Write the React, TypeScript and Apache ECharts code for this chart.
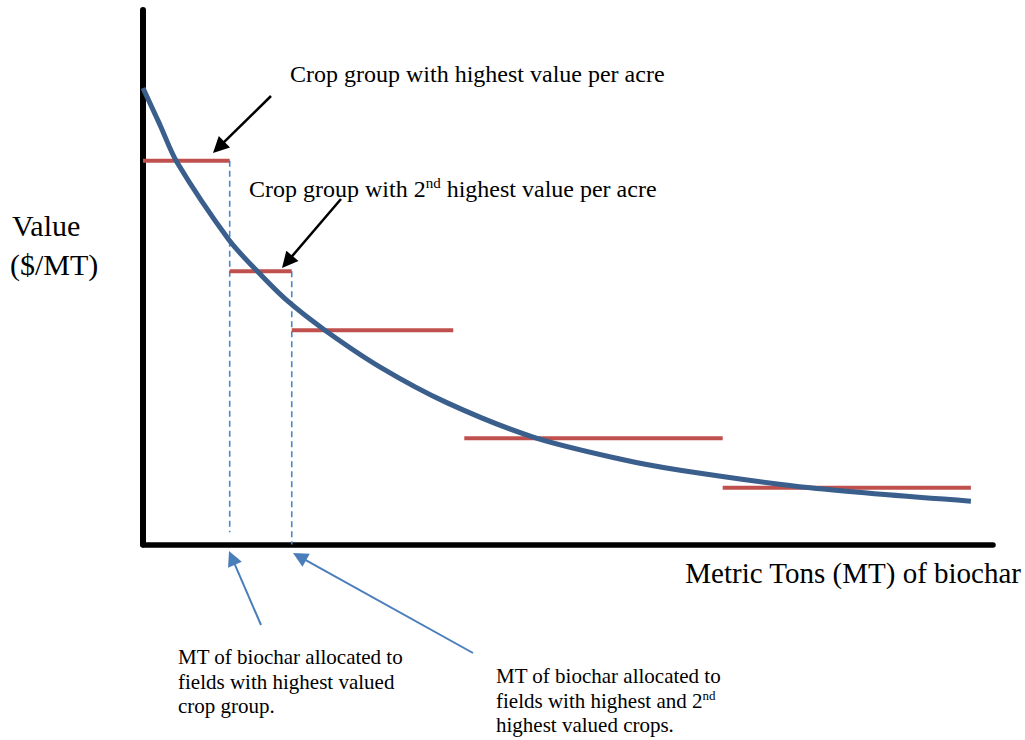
import React, { useEffect, useRef } from 'react';
import * as echarts from 'echarts';

// Demand curve for biochar (value per MT vs. MT allocated)
const curveX = [0, 2.0, 4.0, 10.1, 13.4, 16.9, 21.4, 27.9, 35.8, 45.9, 56.1, 63.2, 78.5, 97.4];
const curveY = [85.4, 78.5, 71.5, 57.0, 51.2, 45.7, 40.1, 33.2, 26.5, 20.1, 16.0, 13.9, 10.6, 8.1];

// Crop groups: value per MT (red steps)
const groupStartX = [0, 10.2, 17.5, 37.8, 68.2];
const groupEndX = [10.2, 17.5, 36.5, 68.2, 97.4];
const groupValue = [71.8, 51.1, 40.1, 19.9, 10.6];

// MT allocated (dashed drop lines)
const allocX = [10.2, 17.5];
const allocTopY = [71.8, 51.1];
const allocBottomY = [2.3, 0];

const xAxisTitle = 'Metric Tons (MT) of biochar';
const yAxisTitleLines = ['Value', '($/MT)'];
const noteTop1 = 'Crop group with highest value per acre';
const noteTop2 = ['Crop group with 2', 'nd', ' highest value per acre'];
const noteBottom1 = ['MT of biochar allocated to', 'fields with highest valued', 'crop group.'];
const noteBottom2 = ['MT of biochar allocated to', 'fields with highest and 2', 'nd', 'highest valued crops.'];

const FONT = 'Liberation Serif, DejaVu Serif, serif';

function arrow(x1: number, y1: number, x2: number, y2: number, color: string, width: number, L: number, W: number) {
  const dx = x2 - x1;
  const dy = y2 - y1;
  const len = Math.sqrt(dx * dx + dy * dy);
  const ux = dx / len;
  const uy = dy / len;
  const bx = x2 - ux * L;
  const by = y2 - uy * L;
  const nx = -uy;
  const ny = ux;
  return [
    {
      type: 'line',
      shape: { x1, y1, x2: x2 - ux * (L - 2), y2: y2 - uy * (L - 2) },
      style: { stroke: color, lineWidth: width },
      silent: true,
    },
    {
      type: 'polygon',
      shape: { points: [[x2, y2], [bx + nx * W, by + ny * W], [bx - nx * W, by - ny * W]] },
      style: { fill: color },
      silent: true,
    },
  ];
}

export default function App() {
  const ref = useRef<HTMLDivElement>(null);

  useEffect(() => {
    if (!ref.current) return;
    const chart = echarts.init(ref.current, undefined, { renderer: 'svg' });

    const series: any[] = [];
    groupValue.forEach((v, i) => {
      series.push({
        type: 'line',
        name: 'group' + i,
        data: [[groupStartX[i], v], [groupEndX[i], v]],
        symbol: 'none',
        lineStyle: { color: '#C0504D', width: 4 },
        z: 2,
        silent: true,
      });
    });
    allocX.forEach((x, i) => {
      series.push({
        type: 'line',
        name: 'alloc' + i,
        data: [[x, allocTopY[i]], [x, allocBottomY[i]]],
        symbol: 'none',
        lineStyle: { color: '#4A86C8', width: 1.6, type: [6, 4] },
        z: 1,
        silent: true,
      });
    });
    series.push({
      type: 'line',
      name: 'value',
      data: curveX.map((x, i) => [x, curveY[i]]),
      symbol: 'none',
      smooth: 0.3,
      lineStyle: { color: '#3A5F8C', width: 5 },
      z: 3,
      silent: true,
    });

    const textBase = { fill: '#000', fontFamily: FONT };

    const graphic: any[] = [
      // Y axis title
      {
        type: 'text', x: 12, y: 225,
        style: { ...textBase, text: yAxisTitleLines[0], fontSize: 30, align: 'left', verticalAlign: 'middle', textAlign: 'left', textVerticalAlign: 'middle' },
      },
      {
        type: 'text', x: 10, y: 264,
        style: { ...textBase, text: yAxisTitleLines[1], fontSize: 30, align: 'left', verticalAlign: 'middle', textAlign: 'left', textVerticalAlign: 'middle' },
      },
      // X axis title
      {
        type: 'text', x: 1021, y: 573,
        style: { ...textBase, text: xAxisTitle, fontSize: 29, align: 'right', verticalAlign: 'middle', textAlign: 'right', textVerticalAlign: 'middle' },
      },
      // Top notes
      {
        type: 'text', x: 290, y: 74,
        style: { ...textBase, text: noteTop1, fontSize: 24, align: 'left', verticalAlign: 'middle', textAlign: 'left', textVerticalAlign: 'middle' },
      },
      {
        type: 'text', x: 249, y: 175,
        style: {
          ...textBase,
          text: `{a|${noteTop2[0]}}{s|${noteTop2[1]}}{a|${noteTop2[2]}}`,
          align: 'left', verticalAlign: 'top', textAlign: 'left', textVerticalAlign: 'top',
          rich: {
            a: { fontSize: 24, lineHeight: 28, fontFamily: FONT, fill: '#000', color: '#000' },
            s: { fontSize: 15, lineHeight: 16, verticalAlign: 'top', fontFamily: FONT, fill: '#000', color: '#000' },
          },
        },
      },
      // Bottom notes
      {
        type: 'text', x: 178, y: 645,
        style: {
          ...textBase,
          text: noteBottom1.map((l) => `{a|${l}}`).join('\n'),
          align: 'left', verticalAlign: 'top', textAlign: 'left', textVerticalAlign: 'top',
          rich: {
            a: { fontSize: 21, lineHeight: 24.5, fontFamily: FONT, fill: '#000', color: '#000' },
          },
        },
      },
      {
        type: 'text', x: 496, y: 664,
        style: {
          ...textBase,
          text: `{a|${noteBottom2[0]}}\n{a|${noteBottom2[1]}}{s|${noteBottom2[2]}}\n{a|${noteBottom2[3]}}`,
          align: 'left', verticalAlign: 'top', textAlign: 'left', textVerticalAlign: 'top',
          rich: {
            a: { fontSize: 21, lineHeight: 24.5, fontFamily: FONT, fill: '#000', color: '#000' },
            s: { fontSize: 13, lineHeight: 14, verticalAlign: 'top', fontFamily: FONT, fill: '#000', color: '#000' },
          },
        },
      },
      // Arrows
      ...arrow(271, 96, 213, 153, '#000', 2.5, 16, 8),
      ...arrow(341, 199, 282, 268, '#000', 2.5, 16, 8),
      ...arrow(261, 625, 229, 551, '#4A7EBB', 2, 15, 7.5),
      ...arrow(473, 653, 293, 553, '#4A7EBB', 2, 15, 7.5),
    ];

    chart.setOption({
      animation: false,
      backgroundColor: '#ffffff',
      grid: { left: 143, top: 10, width: 850, height: 534.5, containLabel: false },
      xAxis: {
        type: 'value', min: 0, max: 100,
        axisLine: { show: true, onZero: false, lineStyle: { color: '#000', width: 5.5 } },
        axisTick: { show: false }, axisLabel: { show: false }, splitLine: { show: false },
      },
      yAxis: {
        type: 'value', min: 0, max: 100,
        axisLine: { show: true, onZero: false, lineStyle: { color: '#000', width: 6 } },
        axisTick: { show: false }, axisLabel: { show: false }, splitLine: { show: false },
      },
      series,
      graphic,
    });

    return () => chart.dispose();
  }, []);

  return (
    <div
      ref={ref}
      style={{ position: 'absolute', left: 0, top: 0, width: 1025, height: 740, background: '#fff' }}
    />
  );
}
